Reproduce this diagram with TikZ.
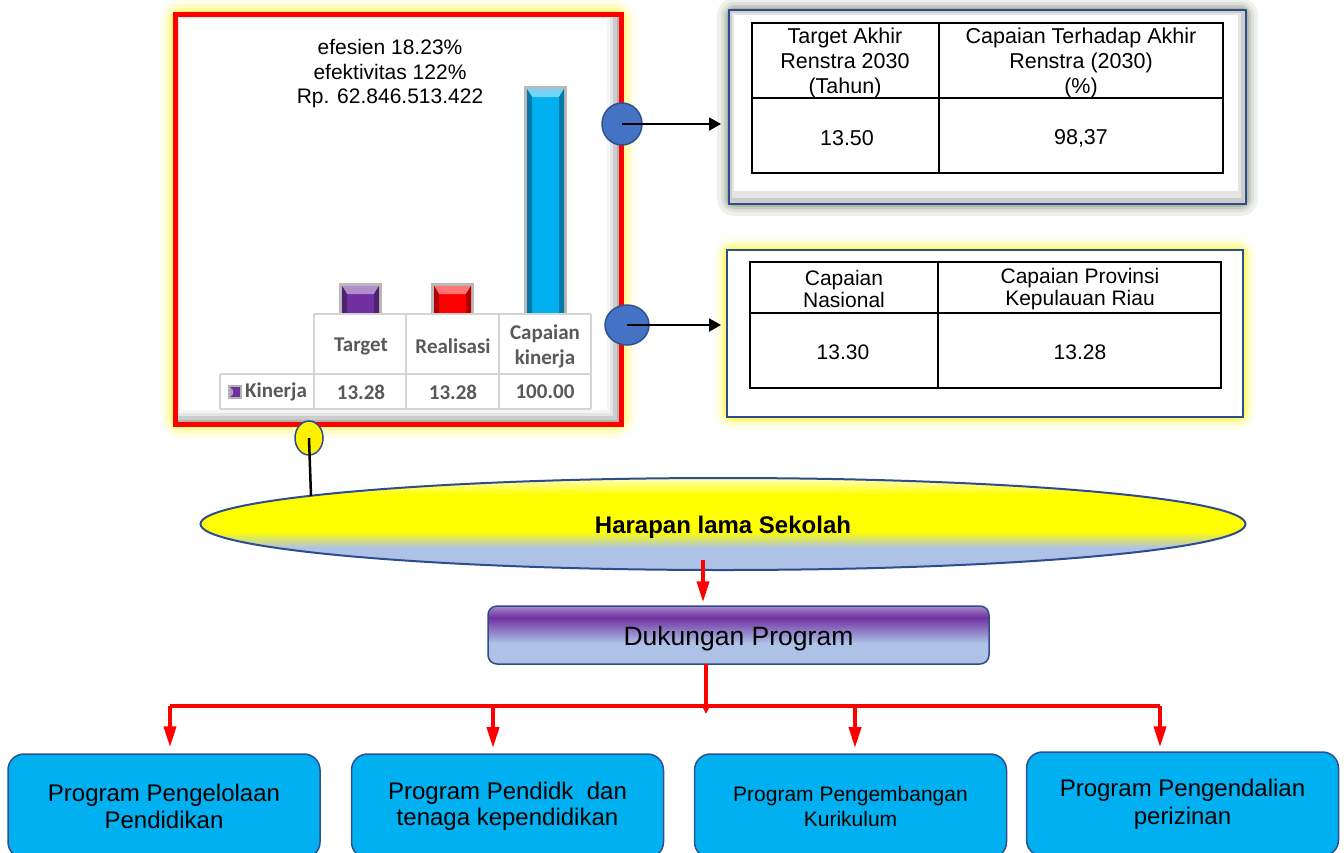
\documentclass[tikz,border=0pt]{standalone}
\usepackage{fontspec}
\setmainfont{Liberation Sans}
\newfontfamily\calibri{Carlito}
\usetikzlibrary{arrows.meta,shapes.geometric}
\definecolor{cblue}{HTML}{4472C4}
\definecolor{cblueline}{HTML}{2F528F}
\definecolor{boxblue}{HTML}{2E4D8F}
\definecolor{cyanbox}{HTML}{00B0F0}
\definecolor{cyanline}{HTML}{2F4F8F}
\definecolor{cpurple}{HTML}{7030A0}
\definecolor{lavender}{HTML}{A68BCB}
\definecolor{lightblue}{HTML}{AEC2E8}
\definecolor{paleyellow}{HTML}{FFFFC0}
\definecolor{glowgray}{HTML}{8E9B80}
\definecolor{tabgray}{HTML}{595959}
\definecolor{gridgray}{HTML}{D4D4D4}
\pgfdeclareverticalshading{ellshade}{100bp}{color(0bp)=(lightblue); color(25bp)=(lightblue); color(37bp)=(lightblue); color(46bp)=(yellow); color(66bp)=(yellow); color(75bp)=(paleyellow); color(100bp)=(paleyellow)}
\pgfdeclareverticalshading{dpshade}{100bp}{color(0bp)=(lightblue); color(25bp)=(lightblue); color(43bp)=(lightblue); color(65bp)=(cpurple); color(75bp)=(lavender); color(100bp)=(lavender)}
\newcommand\fs[2]{\fontsize{#1}{#2}\selectfont}
\newcommand\chartbar[5]{%
  \fill[gray!55] (#1,#2) rectangle (#3,#4);
  \fill[#5] (#1+3,#2+3) rectangle (#3-3,#4);
  \fill[#5!55!white] (#1+3,#2+3) -- (#3-3,#2+3) -- (#3-8,#2+11) -- (#1+8,#2+11) -- cycle;
  \fill[#5!70!black] (#1+3,#2+3) -- (#1+8,#2+11) -- (#1+8,#4) -- (#1+3,#4) -- cycle;
  \fill[#5!70!black] (#3-3,#2+3) -- (#3-8,#2+11) -- (#3-8,#4) -- (#3-3,#4) -- cycle;
}
\tikzset{
  txt/.style={inner sep=0pt, align=center},
  redarr/.style={draw=red, line width=4pt, -{Triangle[length=21pt,width=12pt]}},
  blackarr/.style={draw=black, line width=2pt, -{Triangle[length=12pt,width=13pt]}},
  dot/.style={ellipse, draw=cblueline, line width=1.5pt, fill=cblue, inner sep=0pt},
  progbox/.style={rectangle, rounded corners=16pt, draw=cyanline, line width=1.5pt, fill=cyanbox,
    minimum width=312pt, minimum height=104pt, align=center, inner sep=0pt},
  tab/.style={draw=black, line width=1.2pt},
}
\begin{document}
\begin{tikzpicture}[x=1pt,y=-1pt]
\clip (0,0) rectangle (1344,852);
\fill[white] (0,0) rectangle (1344,852);

% ---------- chart frame glow ----------
\foreach \w/\c in {28/10,20/22,12/40,6/60}
  \draw[line width=\w pt, yellow!\c!white, rounded corners=7pt] (175,14) rectangle (621,424);
\fill[gray!60] (175,14) rectangle (621,424);
\fill[gray!40] (177,16) rectangle (617,420);
\fill[gray!20] (178,17) rectangle (613,416);
\fill[gray!8] (179,18) rectangle (610,413);
\fill[white] (181,19) rectangle (607,410);
\node[draw=red, line width=5pt, minimum width=446pt, minimum height=410pt, inner sep=0pt] (chart) at (398,219) {};

% chart title
\node[txt, font=\fs{21}{24.5}] (ctitle) at (390,74) {efesien 18.23\%\\efektivitas 122\%\\Rp. 62.846.513.422};

% bars
\chartbar{339}{283}{382}{314}{cpurple}
\chartbar{431}{283}{474}{314}{red}
\chartbar{524}{86}{567}{314}{cyanbox}

% chart data table
\draw[gridgray, line width=2pt] (314,314) -- (591,314) (220,374) -- (591,374) (220,409) -- (591,409)
  (220,374) -- (220,409) (314,314) -- (314,409) (406,314) -- (406,409) (499,314) -- (499,409) (591,314) -- (591,409);
\begin{scope}[font=\calibri\bfseries\fs{21}{25}, text=tabgray]
\node[txt] (hT) at (361,346) {Target};
\node[txt] (hR) at (453,346) {Realisasi};
\node[txt] (hC) at (545,346) {Capaian\\kinerja};
\node[txt, anchor=west] (rK) at (245,392) {Kinerja};
\node[txt] (v1) at (361,392) {13.28};
\node[txt] (v2) at (453,392) {13.28};
\node[txt] (v3) at (545,392) {100.00};
\end{scope}
\fill[gray!60] (228,385) rectangle (242,399);
\fill[cpurple] (230,387) rectangle (240,397);
\fill[cpurple!50!white] (230,387) -- (233,390) -- (233,394) -- (230,397) -- cycle;

% ---------- top right box ----------
\foreach \w/\c in {24/15,16/30,10/50,5/75}
  \draw[line width=\w pt, glowgray!\c!white, rounded corners=6pt] (729,10) rectangle (1246,204);
\fill[gray!40] (729,10) rectangle (1246,204);
\fill[gray!20] (732,13) rectangle (1241,198);
\fill[white] (734,15) rectangle (1238,191);
\node[draw=boxblue, line width=2pt, minimum width=517pt, minimum height=194pt, inner sep=0pt] (box1) at (987.5,107) {};
\draw[tab] (752,23) rectangle (1223,173) (939,23) -- (939,173) (752,98) -- (1223,98);
\begin{scope}[font=\fs{21.5}{25}]
\node[txt] (t1a) at (845,63) {Target Akhir\\Renstra 2030\\(Tahun)};
\node[txt] (t1b) at (1081,63) {Capaian Terhadap Akhir\\Renstra (2030)\\(\%)};
\node[txt] (t1c) at (847,138) {13.50};
\node[txt] (t1d) at (1081,138) {98,37};
\end{scope}

% ---------- second right box ----------
\foreach \w/\c in {24/10,16/22,10/40,5/60}
  \draw[line width=\w pt, yellow!\c!white, rounded corners=6pt] (727,250) rectangle (1243,417);
\fill[white] (727,250) rectangle (1243,417);
\node[draw=boxblue, line width=2pt, minimum width=516pt, minimum height=167pt, inner sep=0pt] (box2) at (985,333.5) {};
\draw[tab] (750,262) rectangle (1221,388) (938,262) -- (938,388) (750,313) -- (1221,313);
\begin{scope}[font=\fs{21}{22}]
\node[txt] (t2a) at (844,289) {Capaian\\Nasional};
\node[txt] (t2b) at (1080,289) {Capaian Provinsi\\Kepulauan Riau};
\node[txt] (t2c) at (843,352) {13.30};
\node[txt] (t2d) at (1080,352) {13.28};
\end{scope}

% ---------- connector dots ----------
\node[dot, minimum width=40pt, minimum height=42pt] (d1) at (622,124) {};
\node[dot, minimum width=44pt, minimum height=40pt] (d2) at (627,325) {};
\coordinate (a1) at (721,124);
\coordinate (a2) at (721,325);
\draw[blackarr] (d1.center) -- (a1);
\draw[blackarr] (d2.center) -- (a2);

% ---------- ellipse ----------
\node[ellipse, draw=boxblue, line width=2pt, minimum width=1045pt, minimum height=92pt,
  shading=ellshade] (hls) at (723,524) {};
\node[txt, font=\bfseries\fs{24}{26}] (hlst) at (723,527) {Harapan lama Sekolah};
\node[ellipse, draw=boxblue, line width=1.5pt, fill=yellow, minimum width=28pt, minimum height=34pt, inner sep=0pt] (ys) at (309,438) {};
\coordinate (ytop) at (311,496);
\draw[black, line width=2.5pt] (ys.center) -- (ytop);

% ---------- Dukungan Program ----------
\node[rectangle, rounded corners=9pt, draw=boxblue, line width=1.5pt, minimum width=501pt, minimum height=58pt,
  shading=dpshade] (dp) at (738.5,635) {};
\node[txt, font=\fs{26.5}{28}] (dpt) at (738.5,639) {Dukungan Program};
\coordinate (e1) at (703,560);
\draw[redarr, shorten >=3pt] (e1) -- (e1 |- dp.north);

% ---------- branches ----------
\node[progbox, font=\fs{24}{27}] (b1) at (164,806) {Program Pengelolaan\\Pendidikan};
\node[progbox, font=\fs{24}{26}] (b2) at (507.5,806) {Program Pendidk\ \ dan\\tenaga kependidikan};
\node[progbox, font=\fs{21}{25}] (b3) at (850.5,806) {Program Pengembangan\\Kurikulum};
\node[progbox, font=\fs{24}{28}] (b4) at (1182.5,804) {Program Pengendalian\\perizinan};

\coordinate (j) at (706,706);
\coordinate (jl) at (170,706);
\coordinate (jr) at (1160,706);
\draw[red, line width=4pt] (jl) -- (jr);
\draw[draw=red, line width=4pt, -{Triangle[length=10pt,width=9pt]}] (706,664) -- (706,714);
\draw[redarr, shorten >=6pt] (jl) -- (jl |- b1.north);
\draw[redarr, shorten >=6pt] (493,706) -- (493,754);
\draw[redarr, shorten >=6pt] (855,706) -- (855,754);
\draw[redarr, shorten >=4pt] (jr) -- (jr |- b4.north);
\end{tikzpicture}
\end{document}
